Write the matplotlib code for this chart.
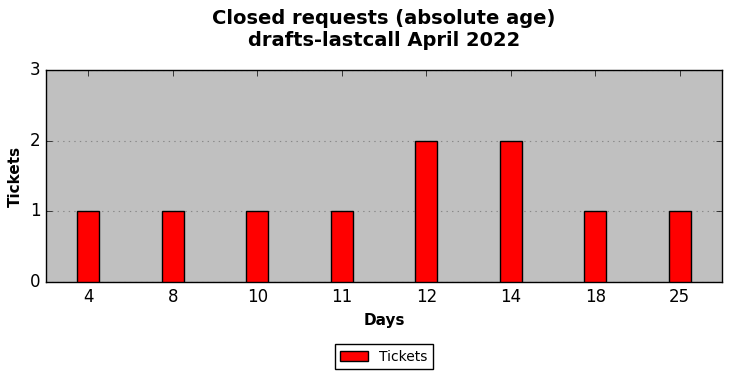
import matplotlib
matplotlib.use("Agg")
import matplotlib.pyplot as plt
import numpy as np

plt.style.use("classic")

days = ['4', '8', '10', '11', '12', '14', '18', '25']
tickets = [1, 1, 1, 1, 2, 2, 1, 1]

x = np.arange(len(days))

fig = plt.figure(figsize=(7.31, 3.78), dpi=100)
ax = fig.add_axes([46/731, 1-282/378, (722-46)/731, (282-70)/378])
ax.set_facecolor("#c0c0c0")

ax.bar(x, tickets, 0.26, color="red", edgecolor="black", linewidth=1,
       align="center", label="Tickets", zorder=3)

ax.set_xlim(-0.5, len(days)-0.5)
ax.set_ylim(0, 3)
ax.set_xticks(x)
ax.set_xticklabels(days, fontsize=12)
ax.set_yticks([0, 1, 2, 3])
ax.tick_params(axis="y", labelsize=12)
ax.grid(axis="y", linestyle=":", color="#888888", linewidth=0.8, zorder=0)
ax.grid(axis="x", visible=False)
ax.set_axisbelow(True)

ax.set_xlabel("Days", fontsize=11, fontweight="bold")
ax.set_ylabel("Tickets", fontsize=11, fontweight="bold")
ax.set_title("Closed requests (absolute age)\ndrafts-lastcall April 2022",
             fontsize=14, fontweight="bold", y=1.08)

fig.legend(loc="lower center", bbox_to_anchor=(384/731, 0.005), fontsize=10,
           ncol=1, handlelength=2, borderpad=0.4, framealpha=1)

fig.savefig("out.png", dpi=100, facecolor="white")
